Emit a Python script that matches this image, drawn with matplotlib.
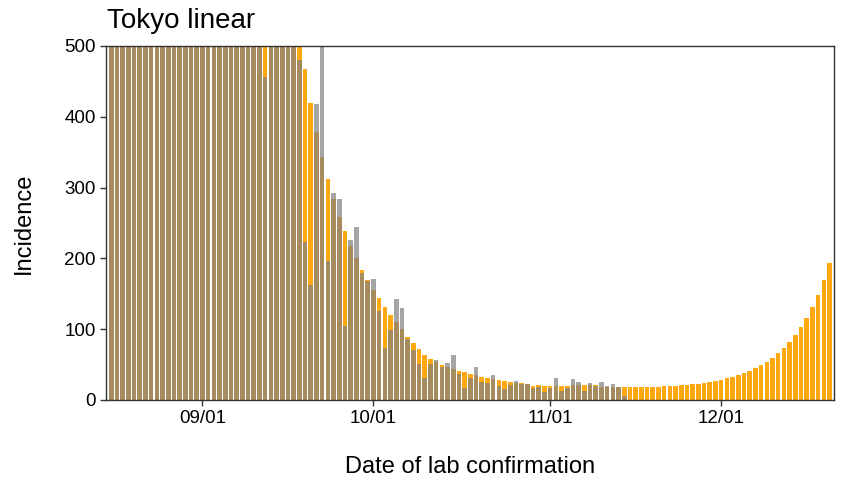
import numpy as np
import pandas as pd
import matplotlib
matplotlib.use("Agg")
import matplotlib.pyplot as plt
import matplotlib.dates as mdates

plt.rcParams['font.family'] = ['Liberation Sans', 'DejaVu Sans']

# daily incidence, Aug 16 .. Dec 20 (orange = estimated, grey = observed)
start = "2021-08-16"
orange = [3000, 4300, 5100, 5400, 5300, 5000, 4400, 2700, 4200, 4200, 4600, 4200, 3600, 3100, 2000, 2900,
          3100, 2700, 2500, 2300, 1900, 1100, 1600, 1800, 1600, 1300, 1200, 1050, 700, 950, 1000, 820, 760, 620,
          467, 420, 379, 343, 312, 284, 259, 238, 218, 201, 184, 169, 155, 144, 132, 120, 110, 100, 89, 80,
          72, 64, 58, 54, 50, 46, 44, 41, 39, 37, 35, 33, 31, 29, 28, 26.5, 25, 24, 23.5, 23, 20, 21, 20,
          19.5, 20, 20, 20, 21, 21, 21, 21, 20.5, 19, 19, 19, 19, 19,
          19, 19, 19, 19, 19, 19, 19.5, 20, 20, 20.5, 21, 22, 23, 24.5, 26, 27, 28.5, 31, 33, 35.5, 38, 41,
          45, 49, 54, 59.5, 66.5, 74, 82, 92, 103, 116, 131, 149, 169, 193]
grey = [3000, 4300, 5100, 5400, 5300, 5000, 4400, 2700, 4200, 4200, 4600, 4200, 3600, 3100, 2000, 2900,
        3100, 2700, 2500, 2300, 1900, 1100, 1600, 1800, 1600, 1300, 1200, 456, 700, 950, 1000, 820, 760, 480,
        223, 163, 418, 560, 197, 293, 284, 104, 226, 245, 179, 168, 171, 126, 74, 99, 143, 130, 86, 71,
        51, 31, 51, 56, 47, 52, 63, 37, 17, 31, 47, 26, 24, 35, 20, 15, 21, 27, 23, 22, 17, 19, 11,
        17, 31, 13, 17.5, 29, 25, 13, 24, 20, 25.5, 20, 23, 18.5, 5.5]
yticks = [0, 100, 200, 300, 400, 500]
xtick_dates = ["2021-09-01", "2021-10-01", "2021-11-01", "2021-12-01"]

dates = pd.date_range(start, periods=len(orange), freq="D")

fig = plt.figure(figsize=(8.41, 4.82), dpi=100)
ax = fig.add_axes([106/841, 82/482, 728/841, 354/482])

ax.bar(dates, orange, width=0.8, color="#FFA812", linewidth=0)
ax.bar(dates[:len(grey)], grey, width=0.8, color="#7F7F7F", alpha=0.7, linewidth=0)

ax.set_ylim(0, 500)
ax.set_xlim(dates[0] - pd.Timedelta(hours=22), dates[-1] + pd.Timedelta(hours=19))
ax.set_yticks(yticks)
ax.set_xticks(pd.to_datetime(xtick_dates))
ax.xaxis.set_major_formatter(mdates.DateFormatter("%m/%d"))

for s in ax.spines.values():
    s.set_color("#333333")
    s.set_linewidth(1.0)
ax.tick_params(axis="both", colors="#333333", length=4, width=1, labelsize=13.5, labelcolor="black")
ax.tick_params(axis="x", pad=3)

fig.text(107/841, 1 - 28/482, "Tokyo linear", fontsize=20, va="baseline", ha="left")
fig.text(470/841, 1 - 467/482, "Date of lab confirmation", fontsize=17, ha="center", va="center")
fig.text(24/841, 1 - 223/482, "Incidence", fontsize=17, ha="center", va="center", rotation=90)

fig.savefig("out.png", dpi=100)
